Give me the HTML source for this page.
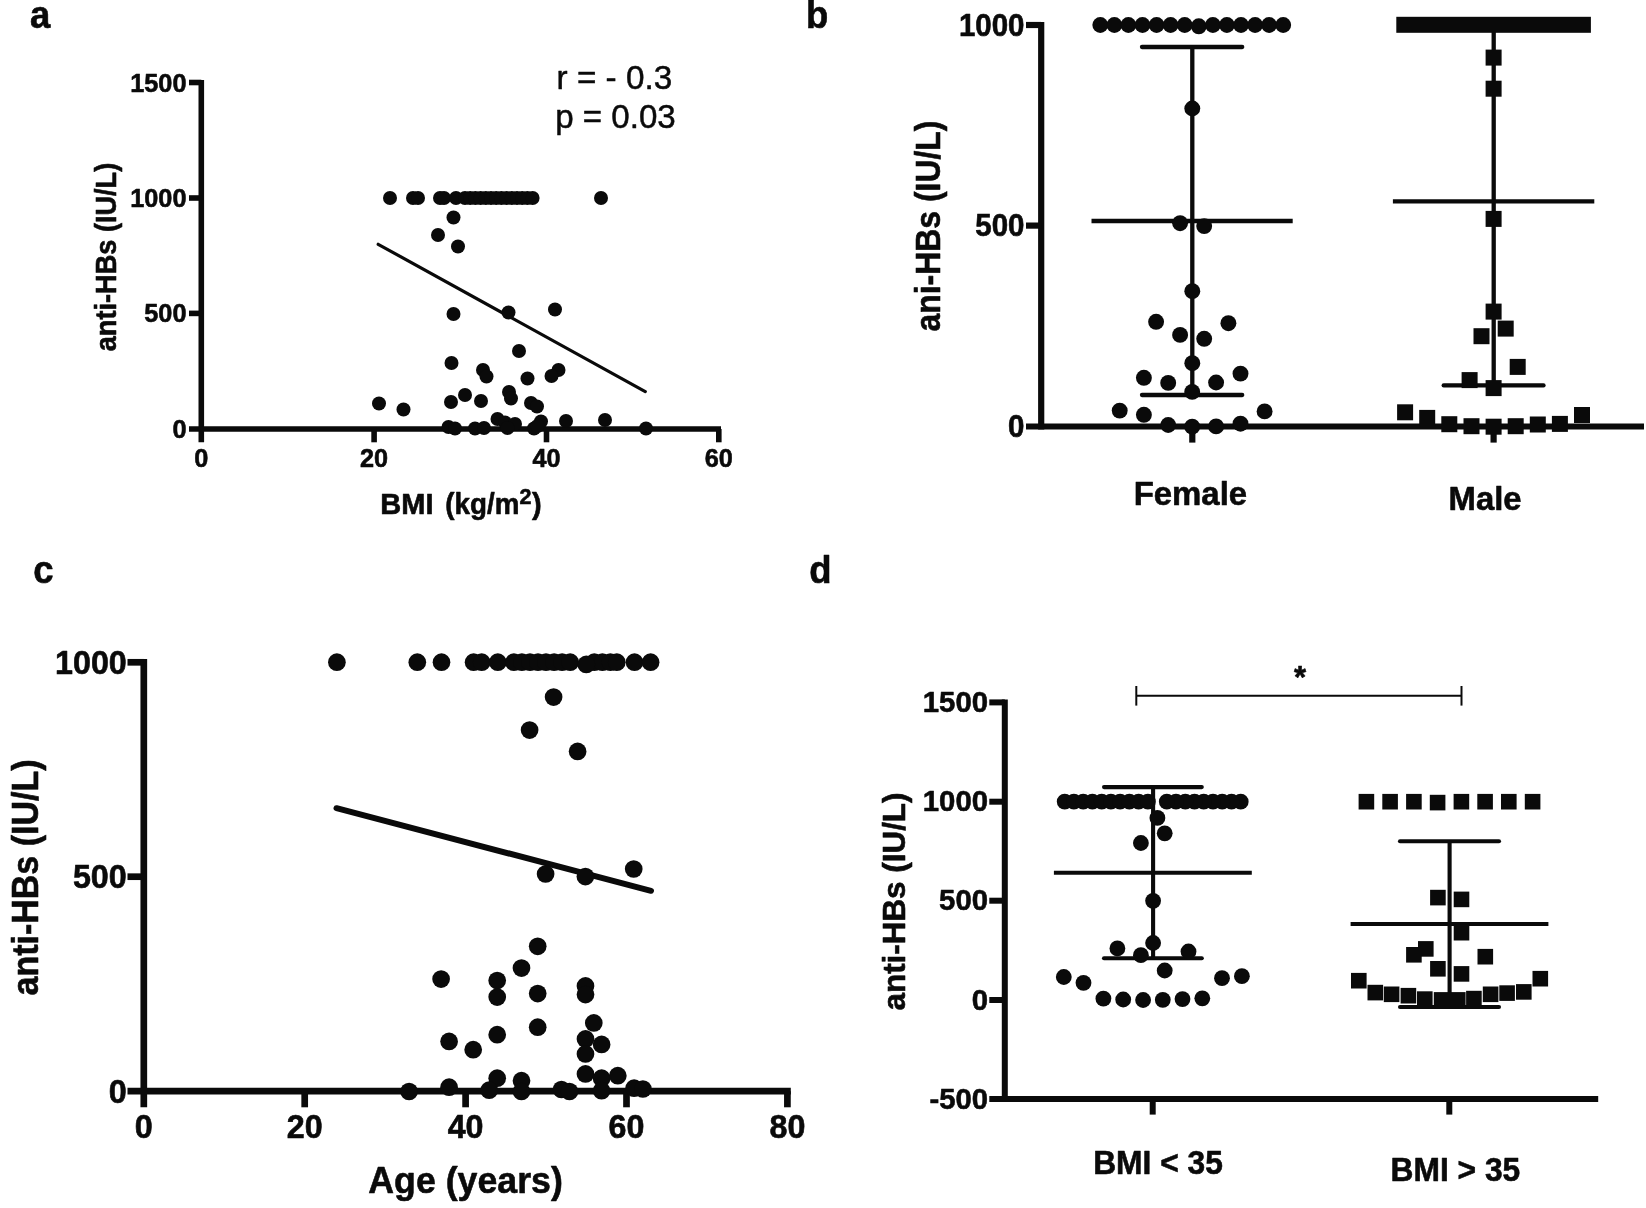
<!DOCTYPE html>
<html lang="en"><head><meta charset="utf-8"><title>Figure: anti-HBs correlations</title>
<style>html,body{margin:0;padding:0;background:#fff;overflow:hidden}svg{display:block;filter:blur(.5px)}text{font-family:"Liberation Sans",Arial,Helvetica,sans-serif;font-weight:700;fill:#0a0a0a;stroke:#0a0a0a;stroke-width:.6px;stroke-linejoin:round}text.n{font-weight:400;stroke-width:.5px}</style></head><body>
<svg width="1646" height="1208" viewBox="0 0 1646 1208" fill="#0a0a0a" stroke="#0a0a0a">
<rect x="0" y="0" width="1646" height="1208" fill="#fff" stroke="none"/>
<g stroke="none">
<text x="30.1" y="28.4" font-size="38" textLength="20.3" lengthAdjust="spacingAndGlyphs">a</text>
<text x="806.0" y="28.3" font-size="38" textLength="22.3" lengthAdjust="spacingAndGlyphs">b</text>
<text x="33.2" y="583.4" font-size="38" textLength="20.3" lengthAdjust="spacingAndGlyphs">c</text>
<text x="809.3" y="583.4" font-size="38" textLength="22.3" lengthAdjust="spacingAndGlyphs">d</text>
</g>
<g id="panel-a">
<line x1="201.3" y1="80.0" x2="201.3" y2="442.3" stroke-width="5.6" stroke-linecap="butt"/>
<line x1="189.0" y1="429.0" x2="721.0" y2="429.0" stroke-width="5.6" stroke-linecap="butt"/>
<line x1="189.0" y1="82.5" x2="201.3" y2="82.5" stroke-width="5.6" stroke-linecap="butt"/>
<line x1="189.0" y1="198.0" x2="201.3" y2="198.0" stroke-width="5.6" stroke-linecap="butt"/>
<line x1="189.0" y1="313.4" x2="201.3" y2="313.4" stroke-width="5.6" stroke-linecap="butt"/>
<line x1="374.1" y1="429.0" x2="374.1" y2="442.3" stroke-width="5.6" stroke-linecap="butt"/>
<line x1="546.5" y1="429.0" x2="546.5" y2="442.3" stroke-width="5.6" stroke-linecap="butt"/>
<line x1="718.8" y1="429.0" x2="718.8" y2="442.3" stroke-width="5.6" stroke-linecap="butt"/>
<g stroke="none">
<text x="186.5" y="91.5" font-size="26.3" text-anchor="end" textLength="56.3" lengthAdjust="spacingAndGlyphs">1500</text>
<text x="186.5" y="207.0" font-size="26.3" text-anchor="end" textLength="56.3" lengthAdjust="spacingAndGlyphs">1000</text>
<text x="186.5" y="322.4" font-size="26.3" text-anchor="end" textLength="42.2" lengthAdjust="spacingAndGlyphs">500</text>
<text x="186.5" y="438.0" font-size="26.3" text-anchor="end" textLength="14.1" lengthAdjust="spacingAndGlyphs">0</text>
<text x="201.3" y="467.4" font-size="26.3" text-anchor="middle" textLength="14.1" lengthAdjust="spacingAndGlyphs">0</text>
<text x="374.1" y="467.4" font-size="26.3" text-anchor="middle" textLength="28.1" lengthAdjust="spacingAndGlyphs">20</text>
<text x="546.5" y="467.4" font-size="26.3" text-anchor="middle" textLength="28.1" lengthAdjust="spacingAndGlyphs">40</text>
<text x="718.8" y="467.4" font-size="26.3" text-anchor="middle" textLength="28.1" lengthAdjust="spacingAndGlyphs">60</text>
<text x="115.5" y="257.0" font-size="30" text-anchor="middle" textLength="188.5" lengthAdjust="spacingAndGlyphs" transform="rotate(-90 115.5 257.0)">anti-HBs (IU/L)</text>
<text x="380.3" y="514" font-size="29">BMI</text><text x="445.3" y="514" font-size="29" textLength="74.1" lengthAdjust="spacingAndGlyphs">(kg/m</text><text x="519.6" y="503.6" font-size="21.5">2</text><text x="531.9" y="514" font-size="29">)</text>
<text x="556.6" y="88.5" font-size="34" class="n" textLength="115.6" lengthAdjust="spacingAndGlyphs">r = - 0.3</text>
<text x="555.2" y="127.9" font-size="34" class="n" textLength="120.6" lengthAdjust="spacingAndGlyphs">p = 0.03</text>
</g>
<line x1="378.2" y1="244.3" x2="645.3" y2="391.6" stroke-width="3.2" stroke-linecap="round"/>
<g stroke="none">
<circle cx="390.0" cy="198.0" r="7.0"/>
<circle cx="413.0" cy="198.0" r="7.0"/>
<circle cx="418.0" cy="198.0" r="7.0"/>
<circle cx="440.0" cy="198.0" r="7.0"/>
<circle cx="444.0" cy="198.0" r="7.0"/>
<circle cx="456.0" cy="198.0" r="7.0"/>
<circle cx="465.0" cy="198.0" r="7.0"/>
<circle cx="470.2" cy="198.0" r="7.0"/>
<circle cx="475.4" cy="198.0" r="7.0"/>
<circle cx="480.6" cy="198.0" r="7.0"/>
<circle cx="485.8" cy="198.0" r="7.0"/>
<circle cx="491.0" cy="198.0" r="7.0"/>
<circle cx="496.2" cy="198.0" r="7.0"/>
<circle cx="501.4" cy="198.0" r="7.0"/>
<circle cx="506.6" cy="198.0" r="7.0"/>
<circle cx="511.8" cy="198.0" r="7.0"/>
<circle cx="517.0" cy="198.0" r="7.0"/>
<circle cx="522.2" cy="198.0" r="7.0"/>
<circle cx="527.4" cy="198.0" r="7.0"/>
<circle cx="532.6" cy="198.0" r="7.0"/>
<circle cx="601.0" cy="198.0" r="7.0"/>
<circle cx="453.5" cy="217.5" r="7.0"/>
<circle cx="438.0" cy="235.0" r="7.0"/>
<circle cx="458.0" cy="246.5" r="7.0"/>
<circle cx="453.5" cy="314.0" r="7.0"/>
<circle cx="508.5" cy="312.5" r="7.0"/>
<circle cx="555.0" cy="309.5" r="7.0"/>
<circle cx="519.0" cy="351.0" r="7.0"/>
<circle cx="451.5" cy="363.0" r="7.0"/>
<circle cx="483.0" cy="370.0" r="7.0"/>
<circle cx="486.5" cy="376.5" r="7.0"/>
<circle cx="558.5" cy="370.0" r="7.0"/>
<circle cx="551.5" cy="376.0" r="7.0"/>
<circle cx="527.5" cy="378.5" r="7.0"/>
<circle cx="509.0" cy="392.0" r="7.0"/>
<circle cx="511.0" cy="398.5" r="7.0"/>
<circle cx="465.0" cy="395.0" r="7.0"/>
<circle cx="481.0" cy="401.0" r="7.0"/>
<circle cx="451.0" cy="402.0" r="7.0"/>
<circle cx="379.0" cy="403.5" r="7.0"/>
<circle cx="403.5" cy="409.5" r="7.0"/>
<circle cx="531.0" cy="403.0" r="7.0"/>
<circle cx="537.0" cy="406.5" r="7.0"/>
<circle cx="497.5" cy="419.0" r="7.0"/>
<circle cx="505.0" cy="422.5" r="7.0"/>
<circle cx="515.0" cy="424.0" r="7.0"/>
<circle cx="541.0" cy="421.5" r="7.0"/>
<circle cx="566.0" cy="421.0" r="7.0"/>
<circle cx="605.0" cy="420.0" r="7.0"/>
<circle cx="646.0" cy="428.5" r="7.0"/>
<circle cx="448.5" cy="427.0" r="7.0"/>
<circle cx="455.0" cy="428.5" r="7.0"/>
<circle cx="475.0" cy="428.5" r="7.0"/>
<circle cx="484.0" cy="428.0" r="7.0"/>
<circle cx="507.5" cy="428.0" r="7.0"/>
<circle cx="534.0" cy="428.5" r="7.0"/>
<circle cx="537.5" cy="426.0" r="7.0"/>
</g>
</g>
<g id="panel-b">
<line x1="1041.2" y1="22.0" x2="1041.2" y2="429.5" stroke-width="6.2" stroke-linecap="butt"/>
<line x1="1026.0" y1="426.5" x2="1644.0" y2="426.5" stroke-width="6.2" stroke-linecap="butt"/>
<line x1="1026.0" y1="25.0" x2="1041.2" y2="25.0" stroke-width="6.2" stroke-linecap="butt"/>
<line x1="1026.0" y1="225.6" x2="1041.2" y2="225.6" stroke-width="6.2" stroke-linecap="butt"/>
<line x1="1192.3" y1="426.5" x2="1192.3" y2="442.6" stroke-width="6.2" stroke-linecap="butt"/>
<line x1="1493.6" y1="426.5" x2="1493.6" y2="442.6" stroke-width="6.2" stroke-linecap="butt"/>
<g stroke="none">
<text x="1024.5" y="35.8" font-size="30.6" text-anchor="end" textLength="65.6" lengthAdjust="spacingAndGlyphs">1000</text>
<text x="1024.5" y="236.4" font-size="30.6" text-anchor="end" textLength="49.2" lengthAdjust="spacingAndGlyphs">500</text>
<text x="1024.5" y="437.3" font-size="30.6" text-anchor="end" textLength="16.4" lengthAdjust="spacingAndGlyphs">0</text>
<text x="940.0" y="226.0" font-size="34.5" text-anchor="middle" textLength="211" lengthAdjust="spacingAndGlyphs" transform="rotate(-90 940.0 226.0)">ani-HBs (IU/L)</text>
<text x="1190.4" y="505.1" font-size="34" text-anchor="middle" textLength="113.5" lengthAdjust="spacingAndGlyphs">Female</text>
<text x="1485.1" y="510.3" font-size="34" text-anchor="middle" textLength="73" lengthAdjust="spacingAndGlyphs">Male</text>
</g>
<line x1="1192.3" y1="47.0" x2="1192.3" y2="395.0" stroke-width="4.3" stroke-linecap="butt"/>
<line x1="1142.0" y1="47.0" x2="1242.2" y2="47.0" stroke-width="4.3" stroke-linecap="round"/>
<line x1="1142.0" y1="395.0" x2="1242.2" y2="395.0" stroke-width="4.3" stroke-linecap="round"/>
<line x1="1091.5" y1="221.0" x2="1292.7" y2="221.0" stroke-width="4.3" stroke-linecap="butt"/>
<line x1="1493.7" y1="25.0" x2="1493.7" y2="385.4" stroke-width="4.3" stroke-linecap="butt"/>
<line x1="1443.7" y1="385.4" x2="1543.5" y2="385.4" stroke-width="4.3" stroke-linecap="round"/>
<line x1="1392.9" y1="201.3" x2="1594.3" y2="201.3" stroke-width="4.3" stroke-linecap="butt"/>
<g stroke="none">
<circle cx="1100.3" cy="25.0" r="7.95"/>
<circle cx="1114.4" cy="25.0" r="7.95"/>
<circle cx="1128.4" cy="25.0" r="7.95"/>
<circle cx="1142.5" cy="25.0" r="7.95"/>
<circle cx="1156.6" cy="25.0" r="7.95"/>
<circle cx="1170.6" cy="25.0" r="7.95"/>
<circle cx="1184.7" cy="25.0" r="7.95"/>
<circle cx="1198.8" cy="26.3" r="7.95"/>
<circle cx="1212.9" cy="25.0" r="7.95"/>
<circle cx="1226.9" cy="25.0" r="7.95"/>
<circle cx="1241.0" cy="25.0" r="7.95"/>
<circle cx="1255.1" cy="25.0" r="7.95"/>
<circle cx="1269.1" cy="25.0" r="7.95"/>
<circle cx="1283.2" cy="25.0" r="7.95"/>
<circle cx="1192.3" cy="108.5" r="7.95"/>
<circle cx="1180.1" cy="223.2" r="7.95"/>
<circle cx="1204.2" cy="226.1" r="7.95"/>
<circle cx="1192.3" cy="291.2" r="7.95"/>
<circle cx="1156.1" cy="321.8" r="7.95"/>
<circle cx="1228.4" cy="323.2" r="7.95"/>
<circle cx="1180.1" cy="334.9" r="7.95"/>
<circle cx="1204.2" cy="338.8" r="7.95"/>
<circle cx="1192.3" cy="363.2" r="7.95"/>
<circle cx="1143.9" cy="377.8" r="7.95"/>
<circle cx="1240.5" cy="373.6" r="7.95"/>
<circle cx="1168.2" cy="382.9" r="7.95"/>
<circle cx="1216.1" cy="382.5" r="7.95"/>
<circle cx="1192.2" cy="391.9" r="7.95"/>
<circle cx="1119.7" cy="410.6" r="7.95"/>
<circle cx="1264.6" cy="411.4" r="7.95"/>
<circle cx="1143.9" cy="414.8" r="7.95"/>
<circle cx="1168.2" cy="425.0" r="7.95"/>
<circle cx="1192.2" cy="426.7" r="7.95"/>
<circle cx="1216.1" cy="426.4" r="7.95"/>
<circle cx="1240.5" cy="423.7" r="7.95"/>
<rect x="1396.3" y="16.8" width="194.6" height="16"/>
<rect x="1485.6" y="49.6" width="16" height="16"/>
<rect x="1485.6" y="80.7" width="16" height="16"/>
<rect x="1485.6" y="210.9" width="16" height="16"/>
<rect x="1485.6" y="303.6" width="16" height="16"/>
<rect x="1497.7" y="320.6" width="16" height="16"/>
<rect x="1473.5" y="328.2" width="16" height="16"/>
<rect x="1509.7" y="358.9" width="16" height="16"/>
<rect x="1461.6" y="372.1" width="16" height="16"/>
<rect x="1485.6" y="380.1" width="16" height="16"/>
<rect x="1397.1" y="404.3" width="16" height="16"/>
<rect x="1574.0" y="407.0" width="16" height="16"/>
<rect x="1419.2" y="409.9" width="16" height="16"/>
<rect x="1441.3" y="416.2" width="16" height="16"/>
<rect x="1463.5" y="418.2" width="16" height="16"/>
<rect x="1485.6" y="418.7" width="16" height="16"/>
<rect x="1507.7" y="418.2" width="16" height="16"/>
<rect x="1529.8" y="416.5" width="16" height="16"/>
<rect x="1551.9" y="415.9" width="16" height="16"/>
</g></g>
<g id="panel-c">
<line x1="143.8" y1="659.0" x2="143.8" y2="1107.3" stroke-width="6.7" stroke-linecap="butt"/>
<line x1="127.5" y1="1091.2" x2="790.8" y2="1091.2" stroke-width="6.7" stroke-linecap="butt"/>
<line x1="127.5" y1="662.3" x2="143.8" y2="662.3" stroke-width="6.7" stroke-linecap="butt"/>
<line x1="127.5" y1="876.7" x2="143.8" y2="876.7" stroke-width="6.7" stroke-linecap="butt"/>
<line x1="304.7" y1="1091.2" x2="304.7" y2="1107.3" stroke-width="6.7" stroke-linecap="butt"/>
<line x1="465.6" y1="1091.2" x2="465.6" y2="1107.3" stroke-width="6.7" stroke-linecap="butt"/>
<line x1="626.5" y1="1091.2" x2="626.5" y2="1107.3" stroke-width="6.7" stroke-linecap="butt"/>
<line x1="787.4" y1="1091.2" x2="787.4" y2="1107.3" stroke-width="6.7" stroke-linecap="butt"/>
<g stroke="none">
<text x="126.8" y="673.8" font-size="33" text-anchor="end" textLength="71.8" lengthAdjust="spacingAndGlyphs">1000</text>
<text x="126.8" y="888.2" font-size="33" text-anchor="end" textLength="53.9" lengthAdjust="spacingAndGlyphs">500</text>
<text x="126.8" y="1102.7" font-size="33" text-anchor="end" textLength="18.0" lengthAdjust="spacingAndGlyphs">0</text>
<text x="143.8" y="1138.2" font-size="33" text-anchor="middle" textLength="18.0" lengthAdjust="spacingAndGlyphs">0</text>
<text x="304.7" y="1138.2" font-size="33" text-anchor="middle" textLength="35.9" lengthAdjust="spacingAndGlyphs">20</text>
<text x="465.6" y="1138.2" font-size="33" text-anchor="middle" textLength="35.9" lengthAdjust="spacingAndGlyphs">40</text>
<text x="626.5" y="1138.2" font-size="33" text-anchor="middle" textLength="35.9" lengthAdjust="spacingAndGlyphs">60</text>
<text x="787.4" y="1138.2" font-size="33" text-anchor="middle" textLength="35.9" lengthAdjust="spacingAndGlyphs">80</text>
<text x="37.6" y="877.5" font-size="36.5" text-anchor="middle" textLength="236" lengthAdjust="spacingAndGlyphs" transform="rotate(-90 37.6 877.5)">anti-HBs (IU/L)</text>
<text x="368.3" y="1193.0" font-size="37.3" textLength="194.5" lengthAdjust="spacingAndGlyphs">Age (years)</text>
</g>
<line x1="336.5" y1="808.2" x2="651.0" y2="890.8" stroke-width="6" stroke-linecap="round"/>
<g stroke="none">
<circle cx="336.9" cy="662.2" r="8.85"/>
<circle cx="417.3" cy="662.2" r="8.85"/>
<circle cx="441.5" cy="662.2" r="8.85"/>
<circle cx="473.6" cy="662.2" r="8.85"/>
<circle cx="481.7" cy="662.2" r="8.85"/>
<circle cx="497.8" cy="662.2" r="8.85"/>
<circle cx="513.9" cy="662.2" r="8.85"/>
<circle cx="521.9" cy="662.2" r="8.85"/>
<circle cx="530.0" cy="662.2" r="8.85"/>
<circle cx="538.0" cy="662.2" r="8.85"/>
<circle cx="546.0" cy="662.2" r="8.85"/>
<circle cx="554.1" cy="662.2" r="8.85"/>
<circle cx="562.1" cy="662.2" r="8.85"/>
<circle cx="570.2" cy="662.2" r="8.85"/>
<circle cx="594.3" cy="662.2" r="8.85"/>
<circle cx="602.4" cy="662.2" r="8.85"/>
<circle cx="610.4" cy="662.2" r="8.85"/>
<circle cx="616.8" cy="662.2" r="8.85"/>
<circle cx="634.5" cy="662.2" r="8.85"/>
<circle cx="650.6" cy="662.2" r="8.85"/>
<circle cx="586.3" cy="664.4" r="8.85"/>
<circle cx="553.6" cy="697.1" r="8.85"/>
<circle cx="529.6" cy="730.1" r="8.85"/>
<circle cx="577.6" cy="751.4" r="8.85"/>
<circle cx="545.6" cy="874.0" r="8.85"/>
<circle cx="585.4" cy="876.6" r="8.85"/>
<circle cx="633.7" cy="869.0" r="8.85"/>
<circle cx="537.7" cy="946.3" r="8.85"/>
<circle cx="521.5" cy="968.1" r="8.85"/>
<circle cx="441.1" cy="979.1" r="8.85"/>
<circle cx="497.2" cy="980.6" r="8.85"/>
<circle cx="497.2" cy="997.1" r="8.85"/>
<circle cx="537.7" cy="993.6" r="8.85"/>
<circle cx="585.5" cy="985.9" r="8.85"/>
<circle cx="585.5" cy="994.6" r="8.85"/>
<circle cx="593.8" cy="1022.9" r="8.85"/>
<circle cx="537.7" cy="1027.2" r="8.85"/>
<circle cx="497.2" cy="1034.7" r="8.85"/>
<circle cx="449.1" cy="1041.4" r="8.85"/>
<circle cx="473.2" cy="1049.7" r="8.85"/>
<circle cx="585.5" cy="1038.9" r="8.85"/>
<circle cx="601.6" cy="1044.4" r="8.85"/>
<circle cx="585.5" cy="1053.9" r="8.85"/>
<circle cx="585.5" cy="1073.9" r="8.85"/>
<circle cx="601.6" cy="1078.2" r="8.85"/>
<circle cx="617.8" cy="1075.7" r="8.85"/>
<circle cx="497.2" cy="1078.2" r="8.85"/>
<circle cx="521.5" cy="1080.7" r="8.85"/>
<circle cx="449.1" cy="1087.2" r="8.85"/>
<circle cx="409.1" cy="1091.5" r="8.85"/>
<circle cx="489.2" cy="1090.2" r="8.85"/>
<circle cx="521.5" cy="1091.5" r="8.85"/>
<circle cx="561.5" cy="1089.5" r="8.85"/>
<circle cx="569.5" cy="1091.5" r="8.85"/>
<circle cx="601.6" cy="1090.7" r="8.85"/>
<circle cx="634.1" cy="1088.2" r="8.85"/>
<circle cx="642.9" cy="1089.0" r="8.85"/>
</g>
</g>
<g id="panel-d">
<line x1="1004.8" y1="699.5" x2="1004.8" y2="1102.0" stroke-width="6" stroke-linecap="butt"/>
<line x1="989.3" y1="1099.0" x2="1598.2" y2="1099.0" stroke-width="6" stroke-linecap="butt"/>
<line x1="989.3" y1="702.4" x2="1004.8" y2="702.4" stroke-width="6" stroke-linecap="butt"/>
<line x1="989.3" y1="801.7" x2="1004.8" y2="801.7" stroke-width="6" stroke-linecap="butt"/>
<line x1="989.3" y1="900.7" x2="1004.8" y2="900.7" stroke-width="6" stroke-linecap="butt"/>
<line x1="989.3" y1="1000.0" x2="1004.8" y2="1000.0" stroke-width="6" stroke-linecap="butt"/>
<line x1="1152.7" y1="1099.0" x2="1152.7" y2="1114.6" stroke-width="6" stroke-linecap="butt"/>
<line x1="1449.3" y1="1099.0" x2="1449.3" y2="1114.6" stroke-width="6" stroke-linecap="butt"/>
<g stroke="none">
<text x="988.0" y="712.1" font-size="30.4" text-anchor="end" textLength="65.2" lengthAdjust="spacingAndGlyphs">1500</text>
<text x="988.0" y="811.4" font-size="30.4" text-anchor="end" textLength="65.2" lengthAdjust="spacingAndGlyphs">1000</text>
<text x="988.0" y="910.4" font-size="30.4" text-anchor="end" textLength="48.9" lengthAdjust="spacingAndGlyphs">500</text>
<text x="988.0" y="1009.7" font-size="30.4" text-anchor="end" textLength="16.3" lengthAdjust="spacingAndGlyphs">0</text>
<text x="988.0" y="1108.7" font-size="30.4" text-anchor="end" textLength="58.6" lengthAdjust="spacingAndGlyphs">-500</text>
<text x="905.2" y="901.5" font-size="32" text-anchor="middle" textLength="218" lengthAdjust="spacingAndGlyphs" transform="rotate(-90 905.2 901.5)">anti-HBs (IU/L)</text>
<text x="1093.2" y="1174.3" font-size="33.3" textLength="129.7" lengthAdjust="spacingAndGlyphs">BMI &lt; 35</text>
<text x="1390.6" y="1180.6" font-size="33.3" textLength="129.7" lengthAdjust="spacingAndGlyphs">BMI &gt; 35</text>
<text x="1300.0" y="688.3" font-size="31" text-anchor="middle">*</text>
</g>
<line x1="1136.3" y1="695.7" x2="1461.5" y2="695.7" stroke-width="2" stroke-linecap="butt"/>
<line x1="1136.3" y1="686.0" x2="1136.3" y2="705.6" stroke-width="2" stroke-linecap="butt"/>
<line x1="1461.5" y1="686.0" x2="1461.5" y2="705.6" stroke-width="2" stroke-linecap="butt"/>
<line x1="1153.1" y1="787.1" x2="1153.1" y2="958.3" stroke-width="4.1" stroke-linecap="butt"/>
<line x1="1104.0" y1="787.1" x2="1201.8" y2="787.1" stroke-width="4.1" stroke-linecap="round"/>
<line x1="1104.0" y1="958.3" x2="1201.8" y2="958.3" stroke-width="4.1" stroke-linecap="round"/>
<line x1="1053.9" y1="872.7" x2="1251.8" y2="872.7" stroke-width="4.1" stroke-linecap="butt"/>
<line x1="1449.6" y1="841.2" x2="1449.6" y2="1007.0" stroke-width="4.1" stroke-linecap="butt"/>
<line x1="1400.0" y1="841.2" x2="1499.0" y2="841.2" stroke-width="4.1" stroke-linecap="round"/>
<line x1="1400.0" y1="1007.0" x2="1499.0" y2="1007.0" stroke-width="4.1" stroke-linecap="round"/>
<line x1="1350.6" y1="924.0" x2="1548.4" y2="924.0" stroke-width="4.1" stroke-linecap="butt"/>
<g stroke="none">
<circle cx="1064.7" cy="801.7" r="7.9"/>
<circle cx="1073.9" cy="801.7" r="7.9"/>
<circle cx="1083.2" cy="801.7" r="7.9"/>
<circle cx="1092.4" cy="801.7" r="7.9"/>
<circle cx="1101.7" cy="801.7" r="7.9"/>
<circle cx="1110.9" cy="801.7" r="7.9"/>
<circle cx="1120.1" cy="801.7" r="7.9"/>
<circle cx="1129.4" cy="801.7" r="7.9"/>
<circle cx="1138.6" cy="801.7" r="7.9"/>
<circle cx="1147.9" cy="801.7" r="7.9"/>
<circle cx="1240.7" cy="801.7" r="7.9"/>
<circle cx="1231.5" cy="801.7" r="7.9"/>
<circle cx="1222.2" cy="801.7" r="7.9"/>
<circle cx="1213.0" cy="801.7" r="7.9"/>
<circle cx="1203.7" cy="801.7" r="7.9"/>
<circle cx="1194.5" cy="801.7" r="7.9"/>
<circle cx="1185.3" cy="801.7" r="7.9"/>
<circle cx="1176.0" cy="801.7" r="7.9"/>
<circle cx="1166.8" cy="801.7" r="7.9"/>
<circle cx="1157.4" cy="817.9" r="7.9"/>
<circle cx="1164.7" cy="833.3" r="7.9"/>
<circle cx="1140.9" cy="843.0" r="7.9"/>
<circle cx="1153.1" cy="900.8" r="7.9"/>
<circle cx="1153.1" cy="943.0" r="7.9"/>
<circle cx="1117.4" cy="948.4" r="7.9"/>
<circle cx="1188.5" cy="951.5" r="7.9"/>
<circle cx="1140.9" cy="955.2" r="7.9"/>
<circle cx="1164.7" cy="970.5" r="7.9"/>
<circle cx="1063.8" cy="977.0" r="7.9"/>
<circle cx="1241.9" cy="976.2" r="7.9"/>
<circle cx="1083.5" cy="982.8" r="7.9"/>
<circle cx="1222.0" cy="978.2" r="7.9"/>
<circle cx="1103.4" cy="998.6" r="7.9"/>
<circle cx="1123.2" cy="999.5" r="7.9"/>
<circle cx="1143.1" cy="1000.0" r="7.9"/>
<circle cx="1162.8" cy="999.8" r="7.9"/>
<circle cx="1182.5" cy="999.1" r="7.9"/>
<circle cx="1202.3" cy="998.3" r="7.9"/>
<rect x="1358.6" y="793.9" width="15.6" height="15.6"/>
<rect x="1382.3" y="793.9" width="15.6" height="15.6"/>
<rect x="1406.1" y="793.9" width="15.6" height="15.6"/>
<rect x="1429.8" y="794.8" width="15.6" height="15.6"/>
<rect x="1453.6" y="793.9" width="15.6" height="15.6"/>
<rect x="1477.3" y="793.9" width="15.6" height="15.6"/>
<rect x="1501.0" y="793.9" width="15.6" height="15.6"/>
<rect x="1524.8" y="793.9" width="15.6" height="15.6"/>
<rect x="1430.1" y="889.8" width="15.6" height="15.6"/>
<rect x="1453.7" y="891.6" width="15.6" height="15.6"/>
<rect x="1453.7" y="924.9" width="15.6" height="15.6"/>
<rect x="1418.0" y="941.1" width="15.6" height="15.6"/>
<rect x="1406.1" y="947.0" width="15.6" height="15.6"/>
<rect x="1477.5" y="948.9" width="15.6" height="15.6"/>
<rect x="1430.1" y="961.0" width="15.6" height="15.6"/>
<rect x="1453.7" y="966.1" width="15.6" height="15.6"/>
<rect x="1351.0" y="972.9" width="15.6" height="15.6"/>
<rect x="1532.5" y="970.9" width="15.6" height="15.6"/>
<rect x="1367.5" y="984.8" width="15.6" height="15.6"/>
<rect x="1383.8" y="986.5" width="15.6" height="15.6"/>
<rect x="1400.6" y="987.9" width="15.6" height="15.6"/>
<rect x="1417.0" y="991.3" width="15.6" height="15.6"/>
<rect x="1433.8" y="992.1" width="15.6" height="15.6"/>
<rect x="1450.0" y="992.1" width="15.6" height="15.6"/>
<rect x="1466.1" y="990.8" width="15.6" height="15.6"/>
<rect x="1482.8" y="986.5" width="15.6" height="15.6"/>
<rect x="1499.3" y="985.3" width="15.6" height="15.6"/>
<rect x="1516.0" y="984.1" width="15.6" height="15.6"/>
</g></g>
</svg></body></html>
